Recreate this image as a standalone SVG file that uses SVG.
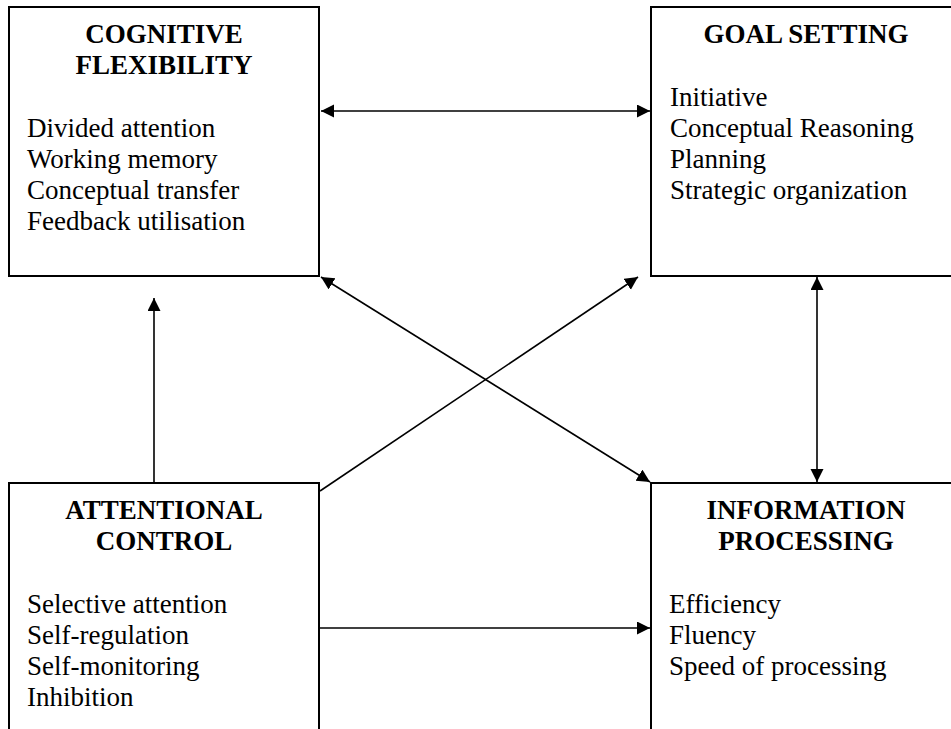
<svg xmlns="http://www.w3.org/2000/svg" width="951" height="729" viewBox="0 0 951 729">
<style>
.box{fill:#fff;stroke:#000;stroke-width:2}
.h{font-family:"Liberation Serif","Times New Roman",serif;font-size:27px;font-weight:bold;text-anchor:middle;fill:#000}
.t{font-family:"Liberation Serif","Times New Roman",serif;font-size:27px;fill:#000}
.c{stroke:#000;stroke-width:1.6;fill:none}
.one{marker-end:url(#ah)}
.two{marker-start:url(#ah);marker-end:url(#ah)}
</style>
<defs>
<marker id="ah" markerUnits="userSpaceOnUse" markerWidth="14" markerHeight="14" refX="13" refY="6.5" orient="auto-start-reverse">
<path d="M0,0 L13,6.5 L0,13 z" fill="#000"/>
</marker>
</defs>
<rect width="951" height="729" fill="#fff"/>
<g id="cognitive-flexibility">
<rect class="box" x="9" y="7" width="310" height="269"/>
<text class="h" x="164" y="43">COGNITIVE</text>
<text class="h" x="164" y="74">FLEXIBILITY</text>
<text class="t" x="27" y="137">Divided attention</text>
<text class="t" x="27" y="168">Working memory</text>
<text class="t" x="27" y="199">Conceptual transfer</text>
<text class="t" x="27" y="230">Feedback utilisation</text>
</g>
<g id="goal-setting">
<rect class="box" x="651" y="7" width="310" height="269"/>
<text class="h" x="806" y="43">GOAL SETTING</text>
<text class="t" x="670" y="106">Initiative</text>
<text class="t" x="670" y="137">Conceptual Reasoning</text>
<text class="t" x="670" y="168">Planning</text>
<text class="t" x="670" y="199">Strategic organization</text>
</g>
<g id="attentional-control">
<rect class="box" x="9" y="483" width="310" height="300"/>
<text class="h" x="164" y="519">ATTENTIONAL</text>
<text class="h" x="164" y="550">CONTROL</text>
<text class="t" x="27" y="613">Selective attention</text>
<text class="t" x="27" y="644">Self-regulation</text>
<text class="t" x="27" y="675">Self-monitoring</text>
<text class="t" x="27" y="706">Inhibition</text>
</g>
<g id="information-processing">
<rect class="box" x="651" y="483" width="310" height="300"/>
<text class="h" x="806" y="519">INFORMATION</text>
<text class="h" x="806" y="550">PROCESSING</text>
<text class="t" x="669" y="613">Efficiency</text>
<text class="t" x="669" y="644">Fluency</text>
<text class="t" x="669" y="675">Speed of processing</text>
</g>
<g id="connectors">
<line class="c two" x1="321" y1="111" x2="650" y2="111"/>
<line class="c one" x1="154" y1="482" x2="154" y2="298"/>
<line class="c two" x1="817" y1="277" x2="817" y2="482"/>
<line class="c two" x1="321" y1="277" x2="650" y2="482"/>
<line class="c one" x1="320" y1="491" x2="638" y2="277"/>
<line class="c one" x1="320" y1="628" x2="650" y2="628"/>
</g>
</svg>
